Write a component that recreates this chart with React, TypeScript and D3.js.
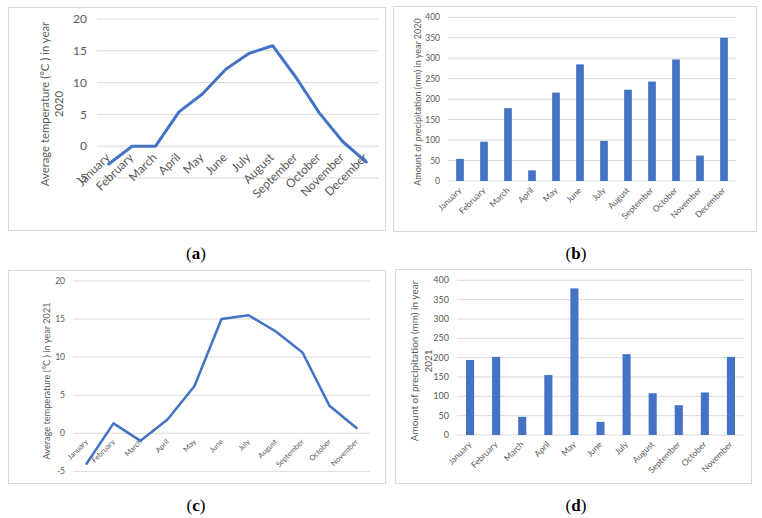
import React from "react";
import * as d3 from "d3";

const months2020 = ["January","February","March","April","May","June","July","August","September","October","November","December"];
const months2021 = ["January","February","March","April","May","June","July","August","September","October","November"];
const temp2020 = [-2.8, 0, 0, 5.4, 8.2, 12.1, 14.6, 15.8, 10.8, 5.2, 0.7, -2.5];
const precip2020 = [54, 96, 178, 26, 216, 285, 98, 223, 243, 297, 62, 350];
const temp2021 = [-4.0, 1.3, -1.0, 1.8, 6.2, 15.0, 15.5, 13.4, 10.6, 3.6, 0.7];
const precip2021 = [194, 202, 47, 155, 379, 34, 209, 108, 77, 110, 202];
const tempTicks = [-5, 0, 5, 10, 15, 20];
const precipTicks = [0, 50, 100, 150, 200, 250, 300, 350, 400];
const captions = ["a", "b", "c", "d"];

const FONT = "Lato, 'Liberation Sans', sans-serif";
const TXT = "#595959";
const GRID = "#d9d9d9";
const BLUE = "#4472C4";

type Cfg = {
  box: [number, number, number, number];
  x0: number; x1: number; yTopPx: number; yBotPx: number;
  domain: [number, number];
  ticks: number[];
  tickFont: number; tickGap: number;
  yLabel: string[]; yLabelX: number[]; yLabelCY: number; yLabelFont: number;
  catFont: number; catDx: number; catDy: number;
};

function Frame({ cfg, children }: { cfg: Cfg; children: React.ReactNode }) {
  const [bx, by, bw, bh] = cfg.box;
  const y = d3.scaleLinear().domain(cfg.domain).range([cfg.yBotPx, cfg.yTopPx]);
  return (
    <g>
      <rect x={bx + 0.5} y={by + 0.5} width={bw} height={bh} fill="#fff" stroke={GRID} strokeWidth={1} />
      {cfg.ticks.map((t) => (
        <g key={t}>
          <line x1={cfg.x0} x2={cfg.x1} y1={y(t)} y2={y(t)} stroke={GRID} strokeWidth={1} />
          <text x={cfg.x0 - cfg.tickGap} y={y(t)} dy="0.35em" textAnchor="end" fontSize={cfg.tickFont} fill={TXT} fontFamily={FONT}>{t}</text>
        </g>
      ))}
      {cfg.yLabel.map((l, i) => (
        <text key={i} transform={`rotate(-90 ${cfg.yLabelX[i]} ${cfg.yLabelCY})`} x={cfg.yLabelX[i]} y={cfg.yLabelCY} textAnchor="middle" dy="0.35em" fontSize={cfg.yLabelFont} fill={TXT} fontFamily={FONT}>{l}</text>
      ))}
      {children}
    </g>
  );
}

function Cats({ cfg, cats, axisVal }: { cfg: Cfg; cats: string[]; axisVal: number }) {
  const x = d3.scaleBand().domain(cats).range([cfg.x0, cfg.x1]);
  const y = d3.scaleLinear().domain(cfg.domain).range([cfg.yBotPx, cfg.yTopPx]);
  return (
    <g>
      {cats.map((c) => {
        const cx = (x(c) as number) + x.bandwidth() / 2 + cfg.catDx;
        const cy = y(axisVal) + cfg.catDy;
        return (
          <text key={c} x={cx} y={cy} transform={`rotate(-45 ${cx} ${cy})`} textAnchor="end" fontSize={cfg.catFont} fill={TXT} fontFamily={FONT}>{c}</text>
        );
      })}
    </g>
  );
}

function LinePanel({ cfg, cats, vals, width }: { cfg: Cfg; cats: string[]; vals: number[]; width: number }) {
  const x = d3.scaleBand().domain(cats).range([cfg.x0, cfg.x1]);
  const y = d3.scaleLinear().domain(cfg.domain).range([cfg.yBotPx, cfg.yTopPx]);
  const line = d3.line<number>().x((_, i) => (x(cats[i]) as number) + x.bandwidth() / 2).y((v) => y(v));
  return (
    <Frame cfg={cfg}>
      <Cats cfg={cfg} cats={cats} axisVal={0} />
      <path d={line(vals) || ""} fill="none" stroke={BLUE} strokeWidth={width} strokeLinejoin="round" strokeLinecap="round" />
    </Frame>
  );
}

function BarPanel({ cfg, cats, vals, frac }: { cfg: Cfg; cats: string[]; vals: number[]; frac: number }) {
  const x = d3.scaleBand().domain(cats).range([cfg.x0, cfg.x1]);
  const y = d3.scaleLinear().domain(cfg.domain).range([cfg.yBotPx, cfg.yTopPx]);
  const bw = x.bandwidth() * frac;
  return (
    <Frame cfg={cfg}>
      {vals.map((v, i) => (
        <rect key={i} x={(x(cats[i]) as number) + (x.bandwidth() - bw) / 2} y={y(v)} width={bw} height={y(0) - y(v)} fill={BLUE} />
      ))}
      <Cats cfg={cfg} cats={cats} axisVal={0} />
    </Frame>
  );
}

const cfgA: Cfg = {
  box: [8, 7, 377, 223], x0: 97, x1: 378, yTopPx: 19, yBotPx: 178, domain: [-5, 20], ticks: tempTicks,
  tickFont: 12, tickGap: 10, yLabel: ["Average temperature (°C ) in year", "2020"], yLabelX: [45, 59], yLabelCY: 104, yLabelFont: 11.3,
  catFont: 12, catDx: 2, catDy: 12,
};
const cfgB: Cfg = {
  box: [393, 6, 363, 225], x0: 448, x1: 736, yTopPx: 17.3, yBotPx: 181, domain: [0, 400], ticks: precipTicks,
  tickFont: 8.5, tickGap: 8, yLabel: ["Amount of precipitation (mm) in year 2020"], yLabelX: [418], yLabelCY: 102, yLabelFont: 9,
  catFont: 8.5, catDx: 2, catDy: 10,
};
const cfgC: Cfg = {
  box: [8, 270, 377, 213], x0: 73, x1: 370, yTopPx: 281, yBotPx: 471.3, domain: [-5, 20], ticks: tempTicks,
  tickFont: 8.5, tickGap: 8, yLabel: ["Average temperature (°C ) in year 2021"], yLabelX: [47], yLabelCY: 381, yLabelFont: 9.2,
  catFont: 7.5, catDx: 2, catDy: 9,
};
const cfgD: Cfg = {
  box: [395, 269, 356, 214], x0: 457, x1: 744, yTopPx: 280.3, yBotPx: 435, domain: [0, 400], ticks: precipTicks,
  tickFont: 9, tickGap: 8, yLabel: ["Amount of precipitation (mm) in year", "2021"], yLabelX: [414, 428], yLabelCY: 361, yLabelFont: 10,
  catFont: 8.5, catDx: 2, catDy: 10,
};

const capPos: [number, number][] = [[196, 259], [576, 259], [196, 511], [576, 511]];

export default function App() {
  return (
    <svg width={762} height={518} style={{ position: "absolute", left: 0, top: 0, background: "#fff" }}>
      <rect x={0} y={0} width={762} height={518} fill="#fff" />
      <LinePanel cfg={cfgA} cats={months2020} vals={temp2020} width={3} />
      <BarPanel cfg={cfgB} cats={months2020} vals={precip2020} frac={0.32} />
      <LinePanel cfg={cfgC} cats={months2021} vals={temp2021} width={2.5} />
      <BarPanel cfg={cfgD} cats={months2021} vals={precip2021} frac={0.31} />
      {captions.map((c, i) => (
        <text key={c} x={capPos[i][0]} y={capPos[i][1]} textAnchor="middle" fontSize={17} fontFamily="'Liberation Serif', 'DejaVu Serif', serif" fill="#000">
          (<tspan fontWeight="bold">{c}</tspan>)
        </text>
      ))}
    </svg>
  );
}
